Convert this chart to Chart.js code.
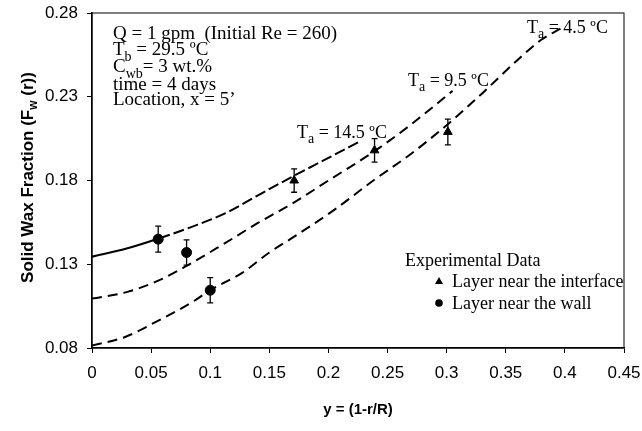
<!DOCTYPE html>
<html>
<head>
<meta charset="utf-8">
<script src="https://cdn.jsdelivr.net/npm/chart.js@4.4.0/dist/chart.umd.min.js"></script>
<style>
  html, body { margin: 0; padding: 0; background: #fff; }
</style>
</head>
<body>
<canvas id="waxChart" width="642" height="431"></canvas>
<script>
// model curves, one per ambient temperature
const curve145X = [0, 0.03, 0.057, 0.085, 0.113, 0.14, 0.17, 0.2, 0.227];
const curve145Y = [0.1345, 0.1395, 0.1455, 0.1525, 0.1605, 0.171, 0.1825, 0.1935, 0.2035];
const curve95X = [0, 0.03, 0.057, 0.08, 0.11, 0.14, 0.17, 0.2, 0.24, 0.27, 0.305];
const curve95Y = [0.1095, 0.1135, 0.1205, 0.129, 0.1415, 0.1545, 0.1665, 0.18, 0.198, 0.2135, 0.2335];
const curve45X = [0, 0.028, 0.057, 0.085, 0.1, 0.127, 0.15, 0.17, 0.204, 0.238, 0.27, 0.3, 0.33, 0.36, 0.38, 0.397];
const curve45Y = [0.0815, 0.0866, 0.0967, 0.1075, 0.1146, 0.1248, 0.137, 0.146, 0.162, 0.18, 0.196, 0.213, 0.232, 0.252, 0.264, 0.271];
const solidEnd = 0.057; // top curve is drawn solid up to here

// experimental data with error bars
const interfaceX = [0.171, 0.239, 0.301];
const interfaceY = [0.180, 0.198, 0.209];
const interfaceErr = [0.007, 0.007, 0.0077];
const wallX = [0.056, 0.080, 0.100];
const wallY = [0.145, 0.137, 0.1145];
const wallErr = [0.0078, 0.0075, 0.0075];

// axes
const xTicks = [0, 0.05, 0.1, 0.15, 0.2, 0.25, 0.3, 0.35, 0.4, 0.45];
const xTickLabels = ['0', '0.05', '0.1', '0.15', '0.2', '0.25', '0.3', '0.35', '0.4', '0.45'];
const yTicks = [0.08, 0.13, 0.18, 0.23, 0.28];
const yTickLabels = ['0.08', '0.13', '0.18', '0.23', '0.28'];

// text blocks: [text, 's' for subscript]
const infoLines = [
    [['Q = 1 gpm  (Initial Re = 260)', '']],
    [['T', ''], ['b', 's'], [' = 29.5 ºC', '']],
    [['C', ''], ['wb', 's'], ['= 3 wt.%', '']],
    [['time = 4 days', '']],
    [['Location, x = 5\u2019', '']]
];
const curveLabels = [
    [['T', ''], ['a', 's'], [' = 14.5 ºC', '']],
    [['T', ''], ['a', 's'], [' = 9.5 ºC', '']],
    [['T', ''], ['a', 's'], [' = 4.5 ºC', '']]
];
const yTitle = [['Solid Wax Fraction (F', ''], ['w', 's'], [' (r))', '']];

const toPoints = (xs, ys) => xs.map((x, i) => ({ x: x, y: ys[i] }));

const SERIF = '"Liberation Serif", "Times New Roman", serif';
const SANS = '"Liberation Sans", Arial, sans-serif';

// draw text with subscript parts, returns width
function drawParts(ctx, parts, x, y, size, font, measureOnly) {
    let cx = x;
    parts.forEach(([t, kind]) => {
        if (kind === 's') {
            ctx.font = `${Math.round(size * 0.75)}px ${font}`;
            if (!measureOnly) ctx.fillText(t, cx, y + size * 0.3);
        } else {
            ctx.font = `${size}px ${font}`;
            if (!measureOnly) ctx.fillText(t, cx, y);
        }
        cx += ctx.measureText(t).width;
    });
    return cx - x;
}

const annotationPlugin = {
    id: 'annotations',
    beforeDatasetsDraw(chart) {
        const { ctx, chartArea } = chart;
        ctx.save();
        ctx.strokeStyle = '#000';
        ctx.lineWidth = 1;
        ctx.strokeRect(chartArea.left, chartArea.top, chartArea.right - chartArea.left, chartArea.bottom - chartArea.top);
        ctx.restore();
    },
    afterDatasetsDraw(chart) {
        const { ctx, chartArea } = chart;
        const xs = chart.scales.x;
        const ys = chart.scales.y;
        ctx.save();
        ctx.fillStyle = '#000';
        ctx.strokeStyle = '#000';
        ctx.textBaseline = 'alphabetic';

        // error bars
        ctx.lineWidth = 1.3;
        const bars = (px, py, pe) => {
            px.forEach((x, i) => {
                const cx = xs.getPixelForValue(x);
                const top = ys.getPixelForValue(py[i] + pe[i]);
                const bot = ys.getPixelForValue(py[i] - pe[i]);
                ctx.beginPath();
                ctx.moveTo(cx, top); ctx.lineTo(cx, bot);
                ctx.moveTo(cx - 3, top); ctx.lineTo(cx + 3, top);
                ctx.moveTo(cx - 3, bot); ctx.lineTo(cx + 3, bot);
                ctx.stroke();
            });
        };
        bars(interfaceX, interfaceY, interfaceErr);
        bars(wallX, wallY, wallErr);

        // info block
        const infoBase = [39, 55, 72, 90, 105];
        infoLines.forEach((parts, i) => drawParts(ctx, parts, 113, infoBase[i], 19, SERIF));

        // curve labels
        const labelPos = [[297, 138], [408, 86], [527, 33]];
        curveLabels.forEach((parts, i) => drawParts(ctx, parts, labelPos[i][0], labelPos[i][1], 18, SERIF));

        // legend
        ctx.font = `18px ${SERIF}`;
        ctx.fillText('Experimental Data', 405, 266);
        chart.data.datasets.filter(d => d.inLegend).forEach((d, i) => {
            const my = 281 + i * 22;
            ctx.beginPath();
            if (d.pointStyle === 'triangle') {
                ctx.moveTo(439, my - 4); ctx.lineTo(443, my + 3); ctx.lineTo(435, my + 3);
                ctx.closePath();
            } else {
                ctx.arc(439, my, 3.8, 0, Math.PI * 2);
            }
            ctx.fill();
            ctx.font = `18px ${SERIF}`;
            ctx.fillText(d.label, 452, my + 6);
        });

        // y axis title with subscript
        ctx.translate(27, (chartArea.top + chartArea.bottom) / 2 - 3);
        ctx.rotate(-Math.PI / 2);
        let w = 0;
        yTitle.forEach(([t, kind]) => {
            ctx.font = kind === 's' ? `bold 12px ${SANS}` : `bold 17px ${SANS}`;
            w += ctx.measureText(t).width;
        });
        let cx = -w / 2;
        yTitle.forEach(([t, kind]) => {
            if (kind === 's') {
                ctx.font = `bold 12px ${SANS}`;
                ctx.fillText(t, cx, 10);
            } else {
                ctx.font = `bold 17px ${SANS}`;
                ctx.fillText(t, cx, 6);
            }
            cx += ctx.measureText(t).width;
        });
        ctx.restore();
    }
};

const lineDefaults = {
    type: 'line',
    borderColor: '#000',
    borderWidth: 2,
    pointRadius: 0,
    fill: false,
    cubicInterpolationMode: 'monotone'
};

// drop the label overflow padding so the plot area sits where the layout says
const noPad = s => { s.paddingTop = 0; s.paddingBottom = 0; s.paddingLeft = 0; s.paddingRight = 0; };

new Chart(document.getElementById('waxChart'), {
    type: 'scatter',
    data: {
        datasets: [
            Object.assign({}, lineDefaults, {
                label: 'Ta = 14.5',
                data: toPoints(curve145X, curve145Y),
                borderDash: [],
                segment: { borderDash: c => c.p0.parsed.x >= solidEnd - 1e-9 ? [11, 4] : undefined }
            }),
            Object.assign({}, lineDefaults, {
                label: 'Ta = 9.5',
                data: toPoints(curve95X, curve95Y),
                borderDash: [10, 6]
            }),
            Object.assign({}, lineDefaults, {
                label: 'Ta = 4.5',
                data: toPoints(curve45X, curve45Y),
                borderDash: [10, 6]
            }),
            {
                label: 'Layer near the interface',
                data: toPoints(interfaceX, interfaceY),
                pointStyle: 'triangle',
                pointRadius: 5,
                backgroundColor: '#000',
                borderColor: '#000',
                inLegend: true
            },
            {
                label: 'Layer near the wall',
                data: toPoints(wallX, wallY),
                pointStyle: 'circle',
                pointRadius: 5,
                backgroundColor: '#000',
                borderColor: '#000',
                inLegend: true
            }
        ]
    },
    options: {
        responsive: false,
        animation: false,
        layout: { padding: { left: 0, top: 13, right: 18, bottom: 0 } },
        plugins: {
            legend: { display: false },
            tooltip: { enabled: false }
        },
        scales: {
            x: {
                type: 'linear',
                min: 0,
                max: 0.45,
                afterBuildTicks: s => { s.ticks = xTicks.map(v => ({ value: v })); },
                afterFit: s => { s.height = 83; noPad(s); },
                ticks: {
                    callback: (v, i) => xTickLabels[i],
                    color: '#000',
                    font: { family: SANS, size: 17 },
                    padding: 10,
                    maxRotation: 0
                },
                grid: { drawOnChartArea: false, tickLength: 5, color: '#000' },
                border: { color: '#000', width: 1.5 },
                title: {
                    display: true,
                    text: 'y = (1-r/R)',
                    color: '#000',
                    font: { family: SANS, size: 15, weight: 'bold' },
                    padding: { top: 0, bottom: 12 }
                }
            },
            y: {
                type: 'linear',
                min: 0.08,
                max: 0.28,
                afterBuildTicks: s => { s.ticks = yTicks.map(v => ({ value: v })); },
                afterFit: s => { s.width = 92; noPad(s); },
                ticks: {
                    callback: (v, i) => yTickLabels[i],
                    color: '#000',
                    font: { family: SANS, size: 17 },
                    padding: 9
                },
                grid: { drawOnChartArea: false, tickLength: 5, color: '#000' },
                border: { color: '#000', width: 1.5 }
            }
        }
    },
    plugins: [annotationPlugin]
});
</script>
</body>
</html>
